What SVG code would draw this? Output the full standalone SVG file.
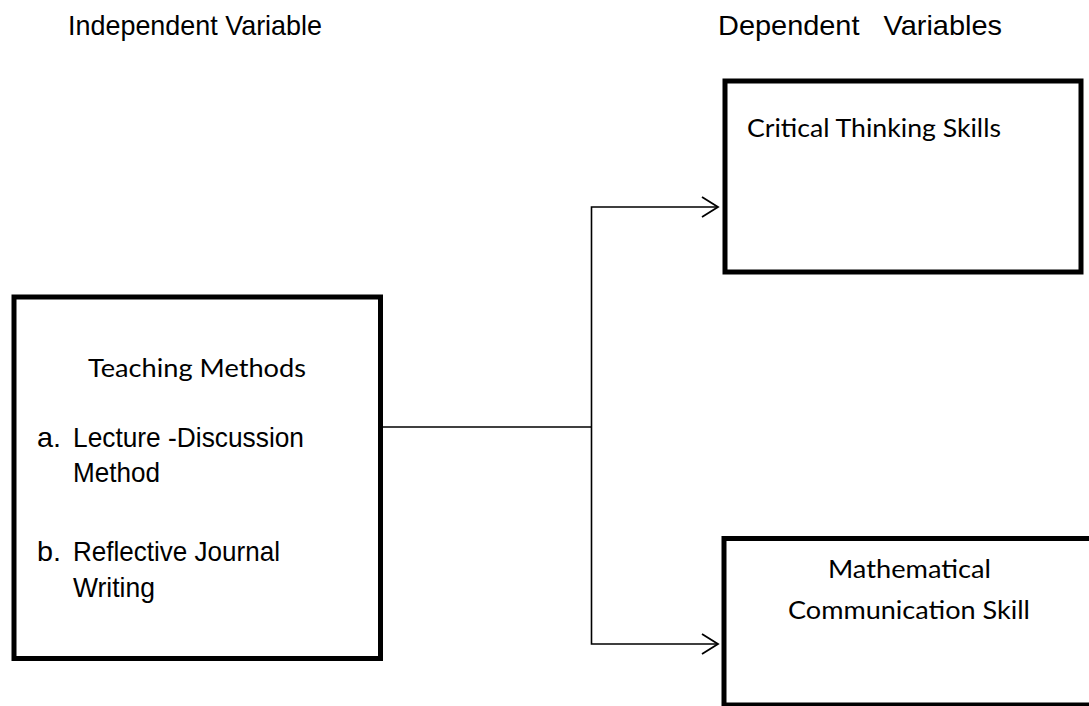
<svg xmlns="http://www.w3.org/2000/svg" width="1089" height="706" viewBox="0 0 1089 706">
<style>
.box{fill:#fff;stroke:#000;stroke-width:5}
.ar{font-family:"Liberation Sans",Arial,sans-serif;font-size:28px;fill:#000;white-space:pre}
.cb{font-family:Lato,"Open Sans",sans-serif;font-size:25px;fill:#000}
.conn{fill:none;stroke:#000;stroke-width:1.6}
</style>
<defs>
<marker id="arr" markerWidth="20" markerHeight="24" refX="17" refY="11" orient="auto" markerUnits="userSpaceOnUse">
<path d="M1,1 L17,11 L1,21" fill="none" stroke="#000" stroke-width="1.8"/>
</marker>
</defs>
<rect width="1089" height="706" fill="#fff"/>
<g id="headings">
<text class="ar" x="68" y="35" textLength="254" lengthAdjust="spacingAndGlyphs">Independent Variable</text>
<text class="ar" x="718" y="35" textLength="284" lengthAdjust="spacingAndGlyphs">Dependent   Variables</text>
</g>
<g id="connectors">
<path class="conn" d="M383,427 H591.5"/>
<path class="conn" d="M591.5,427 V207 H718" marker-end="url(#arr)"/>
<path class="conn" d="M591.5,427 V644 H718" marker-end="url(#arr)"/>
</g>
<g id="teaching">
<rect class="box" x="14" y="297" width="366.5" height="361.5"/>
<text class="cb" x="88" y="377" textLength="218" lengthAdjust="spacingAndGlyphs">Teaching Methods</text>
<text class="ar" x="37" y="447" textLength="24" lengthAdjust="spacingAndGlyphs">a.</text>
<text class="ar" x="73" y="447" textLength="231" lengthAdjust="spacingAndGlyphs">Lecture -Discussion</text>
<text class="ar" x="73" y="482" textLength="87" lengthAdjust="spacingAndGlyphs">Method</text>
<text class="ar" x="37" y="561" textLength="24" lengthAdjust="spacingAndGlyphs">b.</text>
<text class="ar" x="73" y="561" textLength="207" lengthAdjust="spacingAndGlyphs">Reflective Journal</text>
<text class="ar" x="73" y="597" textLength="82" lengthAdjust="spacingAndGlyphs">Writing</text>
</g>
<g id="critical">
<rect class="box" x="725" y="81" width="356" height="191"/>
<text class="cb" x="747" y="137" textLength="254" lengthAdjust="spacingAndGlyphs">Critical Thinking Skills</text>
</g>
<g id="math">
<rect class="box" x="724" y="538.5" width="400" height="166.5"/>
<text class="cb" x="828" y="578" textLength="163" lengthAdjust="spacingAndGlyphs">Mathematical</text>
<text class="cb" x="788" y="619" textLength="242" lengthAdjust="spacingAndGlyphs">Communication Skill</text>
</g>
</svg>
